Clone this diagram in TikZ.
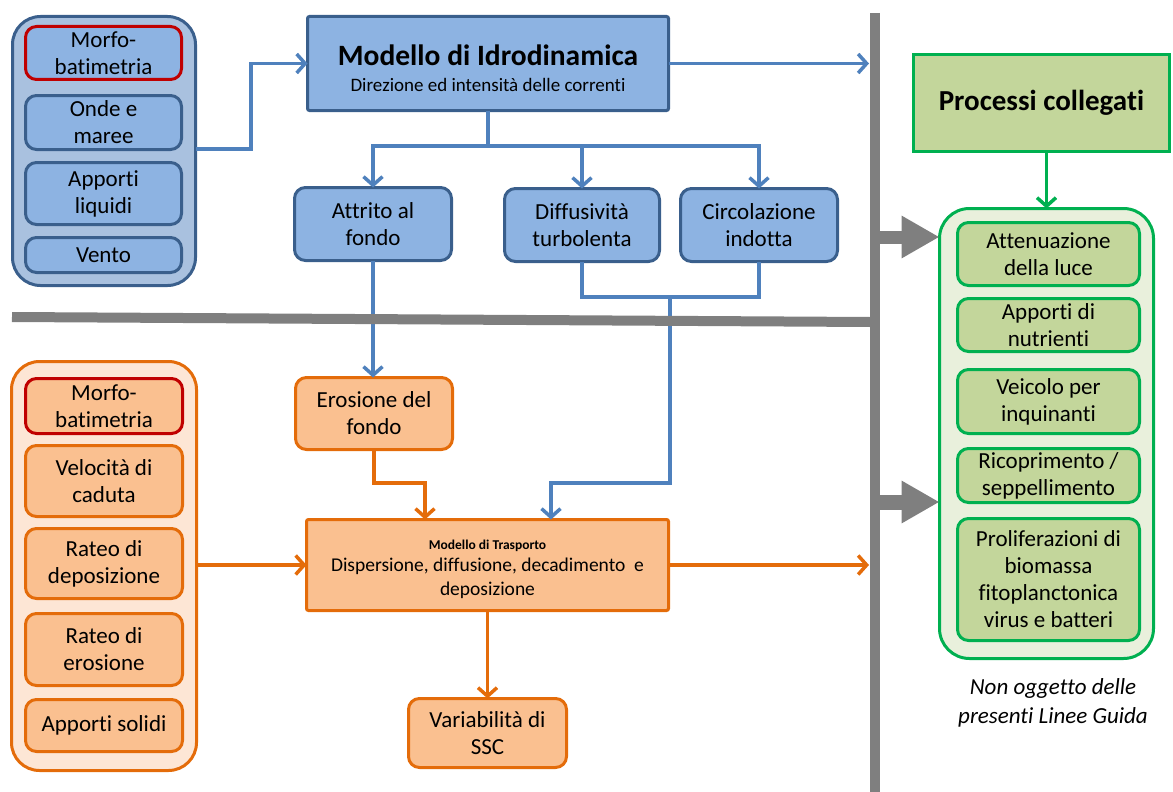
\documentclass[tikz,border=0pt]{standalone}
\usepackage{fontspec}
\setmainfont{Carlito}[Ligatures=NoCommon]
\usetikzlibrary{arrows.meta,calc}

\definecolor{cBlueFill}{HTML}{8DB3E2}
\definecolor{cBluePanel}{HTML}{A9C1DF}
\definecolor{cBlueDark}{HTML}{3A5F8C}
\definecolor{cBlueLine}{HTML}{4F81BD}
\definecolor{cOrFill}{HTML}{FAC090}
\definecolor{cOrPanel}{HTML}{FDE6D5}
\definecolor{cOrDark}{HTML}{E46C0A}
\definecolor{cGrFill}{HTML}{C3D69B}
\definecolor{cGrPanel}{HTML}{E9F0DC}
\definecolor{cGrDark}{HTML}{00B050}
\definecolor{cRed}{HTML}{C00000}
\definecolor{cGray}{HTML}{7F7F7F}

\newcommand\bodyfont{\fontsize{23}{27}\selectfont}

\tikzset{
  box/.style={draw, line width=3pt, rounded corners=11pt, align=center,
    inner sep=0pt, outer sep=0pt, font=\bodyfont, text=black},
  bluebox/.style={box, fill=cBlueFill, draw=cBlueDark},
  orangebox/.style={box, fill=cOrFill, draw=cOrDark},
  greenbox/.style={box, fill=cGrFill, draw=cGrDark},
  redframe/.style={draw=cRed},
  panel/.style={line width=3pt, inner sep=0pt, outer sep=0pt, rounded corners=28pt},
  bconn/.style={draw=cBlueLine, line width=3.5pt},
  oconn/.style={draw=cOrDark, line width=3.5pt},
  gconn/.style={draw=cGrDark, line width=3.5pt},
  barb/.style={-{Straight Barb[length=8.5pt,width=19pt]}},
  bigarrow/.style={draw=cGray, -{Triangle[length=38pt,width=40pt]}},
  divider/.style={draw=cGray, line width=10pt}
}

\begin{document}
\begin{tikzpicture}[x=1pt,y=-1pt]
\useasboundingbox (0,0) rectangle (1173,792);

% ---- hydrodynamic inputs ----
\node[panel, fill=cBluePanel, draw=cBlueDark, minimum width=183pt, minimum height=269pt] (bpanel) at (104,151) {};
\node[bluebox, redframe, minimum width=156pt, minimum height=53pt] (b1) at (103.5,53) {Morfo-\\batimetria};
\node[bluebox, minimum width=156pt, minimum height=54pt] (b2) at (103.5,122.5) {Onde e\\maree};
\node[bluebox, minimum width=156pt, minimum height=62pt] (b3) at (103.5,193.5) {Apporti\\liquidi};
\node[bluebox, minimum width=156pt, minimum height=35pt] (b4) at (103.5,255) {Vento};

% ---- hydrodynamic model ----
\node[bluebox, rounded corners=2pt, minimum width=361pt, minimum height=94pt,
      font=\fontsize{19}{26}\selectfont] (idro) at (488,63.5)
  {\rule{0pt}{31pt}{\fontsize{29.5}{34}\selectfont\bfseries Modello di Idrodinamica}\\Direzione ed intensità delle correnti};

\node[bluebox, minimum width=157pt, minimum height=73pt] (attr) at (373,224) {Attrito al\\fondo};
\node[bluebox, minimum width=155pt, minimum height=73pt] (diff) at (582,225) {Diffusività\\turbolenta};
\node[bluebox, minimum width=157pt, minimum height=73pt] (circ) at (759,225) {Circolazione\\indotta};

% ---- transport inputs ----
\node[panel, fill=cOrPanel, draw=cOrDark, minimum width=185pt, minimum height=409pt] (opanel) at (104,566) {};
\node[orangebox, redframe, minimum width=157pt, minimum height=55pt] (o1) at (104,406) {Morfo-\\batimetria};
\node[orangebox, minimum width=157pt, minimum height=71pt] (o2) at (104,481) {Velocità di\\caduta};
\node[orangebox, minimum width=157pt, minimum height=70pt] (o3) at (104,563.5) {Rateo di\\deposizione};
\node[orangebox, minimum width=157pt, minimum height=72pt] (o4) at (104,649.5) {Rateo di\\erosione};
\node[orangebox, minimum width=157pt, minimum height=52pt] (o5) at (104,725.5) {Apporti solidi};

% ---- transport model ----
\node[orangebox, minimum width=157pt, minimum height=72pt] (eros) at (374,413.5) {Erosione del\\fondo};
\node[orangebox, rounded corners=2pt, minimum width=362pt, minimum height=91pt,
      font=\fontsize{19.5}{24}\selectfont] (trasp) at (487.5,565)
  {\rule{0pt}{19pt}{\fontsize{13.5}{16}\selectfont\bfseries Modello di Trasporto}\\[-2pt]Dispersione, diffusione, decadimento\ \ e\\deposizione};
\node[orangebox, minimum width=158pt, minimum height=69pt] (var) at (487.5,733) {Variabilità di\\SSC};

% ---- related processes ----
\node[greenbox, rounded corners=0pt, minimum width=256pt, minimum height=97pt,
      font=\fontsize{29}{34}\selectfont\bfseries] (proc) at (1041.5,103) {Processi collegati};
\node[panel, rounded corners=30pt, fill=cGrPanel, draw=cGrDark, minimum width=214pt, minimum height=450pt] (gpanel) at (1046.5,433.5) {};
\node[greenbox, minimum width=182pt, minimum height=63pt] (g1) at (1048.5,254) {Attenuazione\\della luce};
\node[greenbox, minimum width=182pt, minimum height=53pt] (g2) at (1048.5,325) {Apporti di\\nutrienti};
\node[greenbox, minimum width=182pt, minimum height=64pt] (g3) at (1048.5,401.5) {Veicolo per\\inquinanti};
\node[greenbox, minimum width=182pt, minimum height=54pt] (g4) at (1048.5,475.5) {Ricoprimento /\\seppellimento};
\node[greenbox, minimum width=182pt, minimum height=122pt] (g5) at (1048.5,579.5) {Proliferazioni di\\biomassa\\fitoplanctonica\\virus e batteri};
\node[align=center, inner sep=0pt, font=\fontsize{23}{29}\selectfont\itshape] (note) at (1053,703) {Non oggetto delle\\presenti Linee Guida};

% ---- hydrodynamic connectors ----
\coordinate (kb) at (251,149);
\draw[bconn, barb] (bpanel.east |- kb) -- (kb) |- (idro.west);
\coordinate (gv1) at (869,63.5);
\draw[bconn, barb] (idro.east) -- (gv1);
\coordinate (split) at (488,146);
\draw[bconn] (idro.south) -- (split);
\draw[bconn, barb] (split) -| (attr.north);
\draw[bconn, barb] (split) -| (diff.north);
\draw[bconn, barb] (split) -| (circ.north);
\draw[bconn, barb] (attr.south) -- (attr.south |- eros.north);
\coordinate (merge) at (670,297);
\draw[bconn] (diff.south) |- (merge) -| (circ.south);
\coordinate (mbend) at (670,483);
\path (trasp.north) ++(63.5,0) coordinate (tin2);
\path (trasp.north) ++(-62.5,0) coordinate (tin1);
\draw[bconn, barb] (merge) -- (mbend) -| (tin2);

% ---- transport connectors ----
\coordinate (ebend) at (374,483);
\draw[oconn, barb] (eros.south) -- (ebend) -| (tin1);
\draw[oconn, barb] (opanel.east |- trasp.west) -- (trasp.west);
\coordinate (gv2) at (869,565);
\draw[oconn, barb] (trasp.east) -- (gv2);
\draw[oconn, barb] (trasp.south) -- (var.north);

% ---- related processes connectors ----
\draw[gconn, barb] (gpanel.north |- proc.south) -- (gpanel.north);

% ---- dividers ----
\draw[divider] (12,317) -- (870,322);
\draw[divider] (875,13) -- (875,800);
\coordinate (ga1) at (875,237);
\coordinate (ga2) at (875,502);
\draw[bigarrow, line width=13pt] (ga1) -- (gpanel.west |- ga1);
\draw[bigarrow, line width=15pt] (ga2) -- (gpanel.west |- ga2);
\end{tikzpicture}
\end{document}
